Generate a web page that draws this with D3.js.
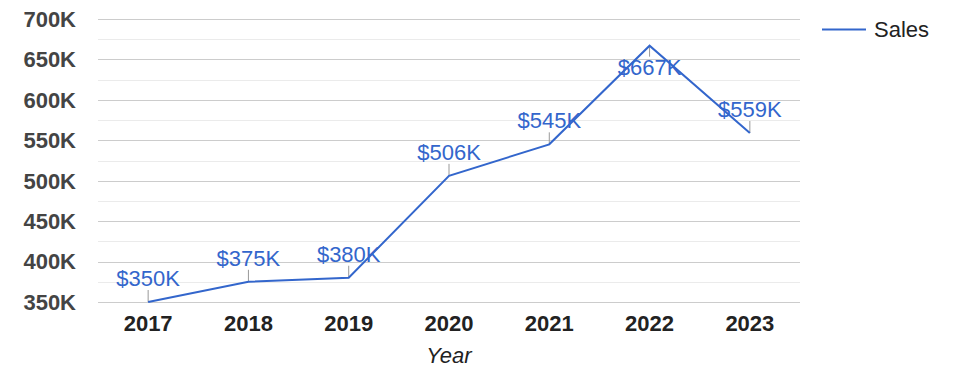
<!DOCTYPE html>
<html><head><meta charset="utf-8">
<script src="https://cdn.jsdelivr.net/npm/d3@7"></script>
<style>body{margin:0;background:#fff}svg{display:block;font-family:Arial,"Liberation Sans",sans-serif}</style>
</head><body><svg id="c" width="975" height="378"></svg>
<script>
const years = ["2017","2018","2019","2020","2021","2022","2023"];
const sales = [350, 375, 380, 506, 545, 667, 559];
const labels = ["$350K","$375K","$380K","$506K","$545K","$667K","$559K"];
const labelBelow = [false,false,false,false,false,true,false];
const majorTicks = [350,400,450,500,550,600,650,700];
const minorTicks = [375,425,475,525,575,625,675];
const seriesName = "Sales";
const color = "#3366cc";

const svg = d3.select("#c");
const L = 98, R = 800, T = 19, B = 302;
const x = d3.scalePoint().domain(years).range([L, R]).padding(0.5);
const y = d3.scaleLinear().domain([350, 700]).range([B, T]);

svg.append("g").selectAll("line").data(minorTicks).join("line")
  .attr("x1", L).attr("x2", R).attr("y1", d => Math.round(y(d))+0.5).attr("y2", d => Math.round(y(d))+0.5)
  .attr("stroke", "#ebebeb").attr("stroke-width", 1);
svg.append("g").selectAll("line").data(majorTicks).join("line")
  .attr("x1", L).attr("x2", R).attr("y1", d => Math.round(y(d))+0.5).attr("y2", d => Math.round(y(d))+0.5)
  .attr("stroke", "#cccccc").attr("stroke-width", 1);

svg.append("g").selectAll("text").data(majorTicks).join("text")
  .attr("x", 76).attr("y", d => y(d)).attr("dy", "0.36em").attr("text-anchor", "end")
  .attr("font-size", 22).attr("font-weight", "bold").attr("fill", "#444").text(d => d + "K");

svg.append("g").selectAll("text").data(years).join("text")
  .attr("x", d => x(d)).attr("y", 331).attr("text-anchor", "middle")
  .attr("font-size", 22).attr("font-weight", "bold").attr("fill", "#222").text(d => d);

svg.append("text").attr("x", (L+R)/2).attr("y", 363).attr("text-anchor", "middle")
  .attr("font-size", 22).attr("font-style", "italic").attr("fill", "#222").text("Year");

const pts = years.map((yr, i) => ({yr, v: sales[i], lab: labels[i], below: labelBelow[i]}));

svg.append("g").selectAll("line").data(pts).join("line")
  .attr("x1", d => x(d.yr)).attr("x2", d => x(d.yr))
  .attr("y1", d => y(d.v)).attr("y2", d => y(d.v) + (d.below ? 11 : -12))
  .attr("stroke", "#999").attr("stroke-width", 1);

svg.append("path").datum(pts)
  .attr("d", d3.line().x(d => x(d.yr)).y(d => y(d.v)))
  .attr("fill", "none").attr("stroke", color).attr("stroke-width", 2);

svg.append("g").selectAll("text").data(pts).join("text")
  .attr("x", d => x(d.yr)).attr("y", d => y(d.v) + (d.below ? 29 : -16))
  .attr("text-anchor", "middle").attr("font-size", 22).attr("fill", color).text(d => d.lab);

svg.append("line").attr("x1", 822).attr("x2", 866).attr("y1", 29.5).attr("y2", 29.5)
  .attr("stroke", color).attr("stroke-width", 2);
svg.append("text").attr("x", 874).attr("y", 29.5).attr("dy", "0.36em")
  .attr("font-size", 22).attr("fill", "#222").text(seriesName);
</script></body></html>
